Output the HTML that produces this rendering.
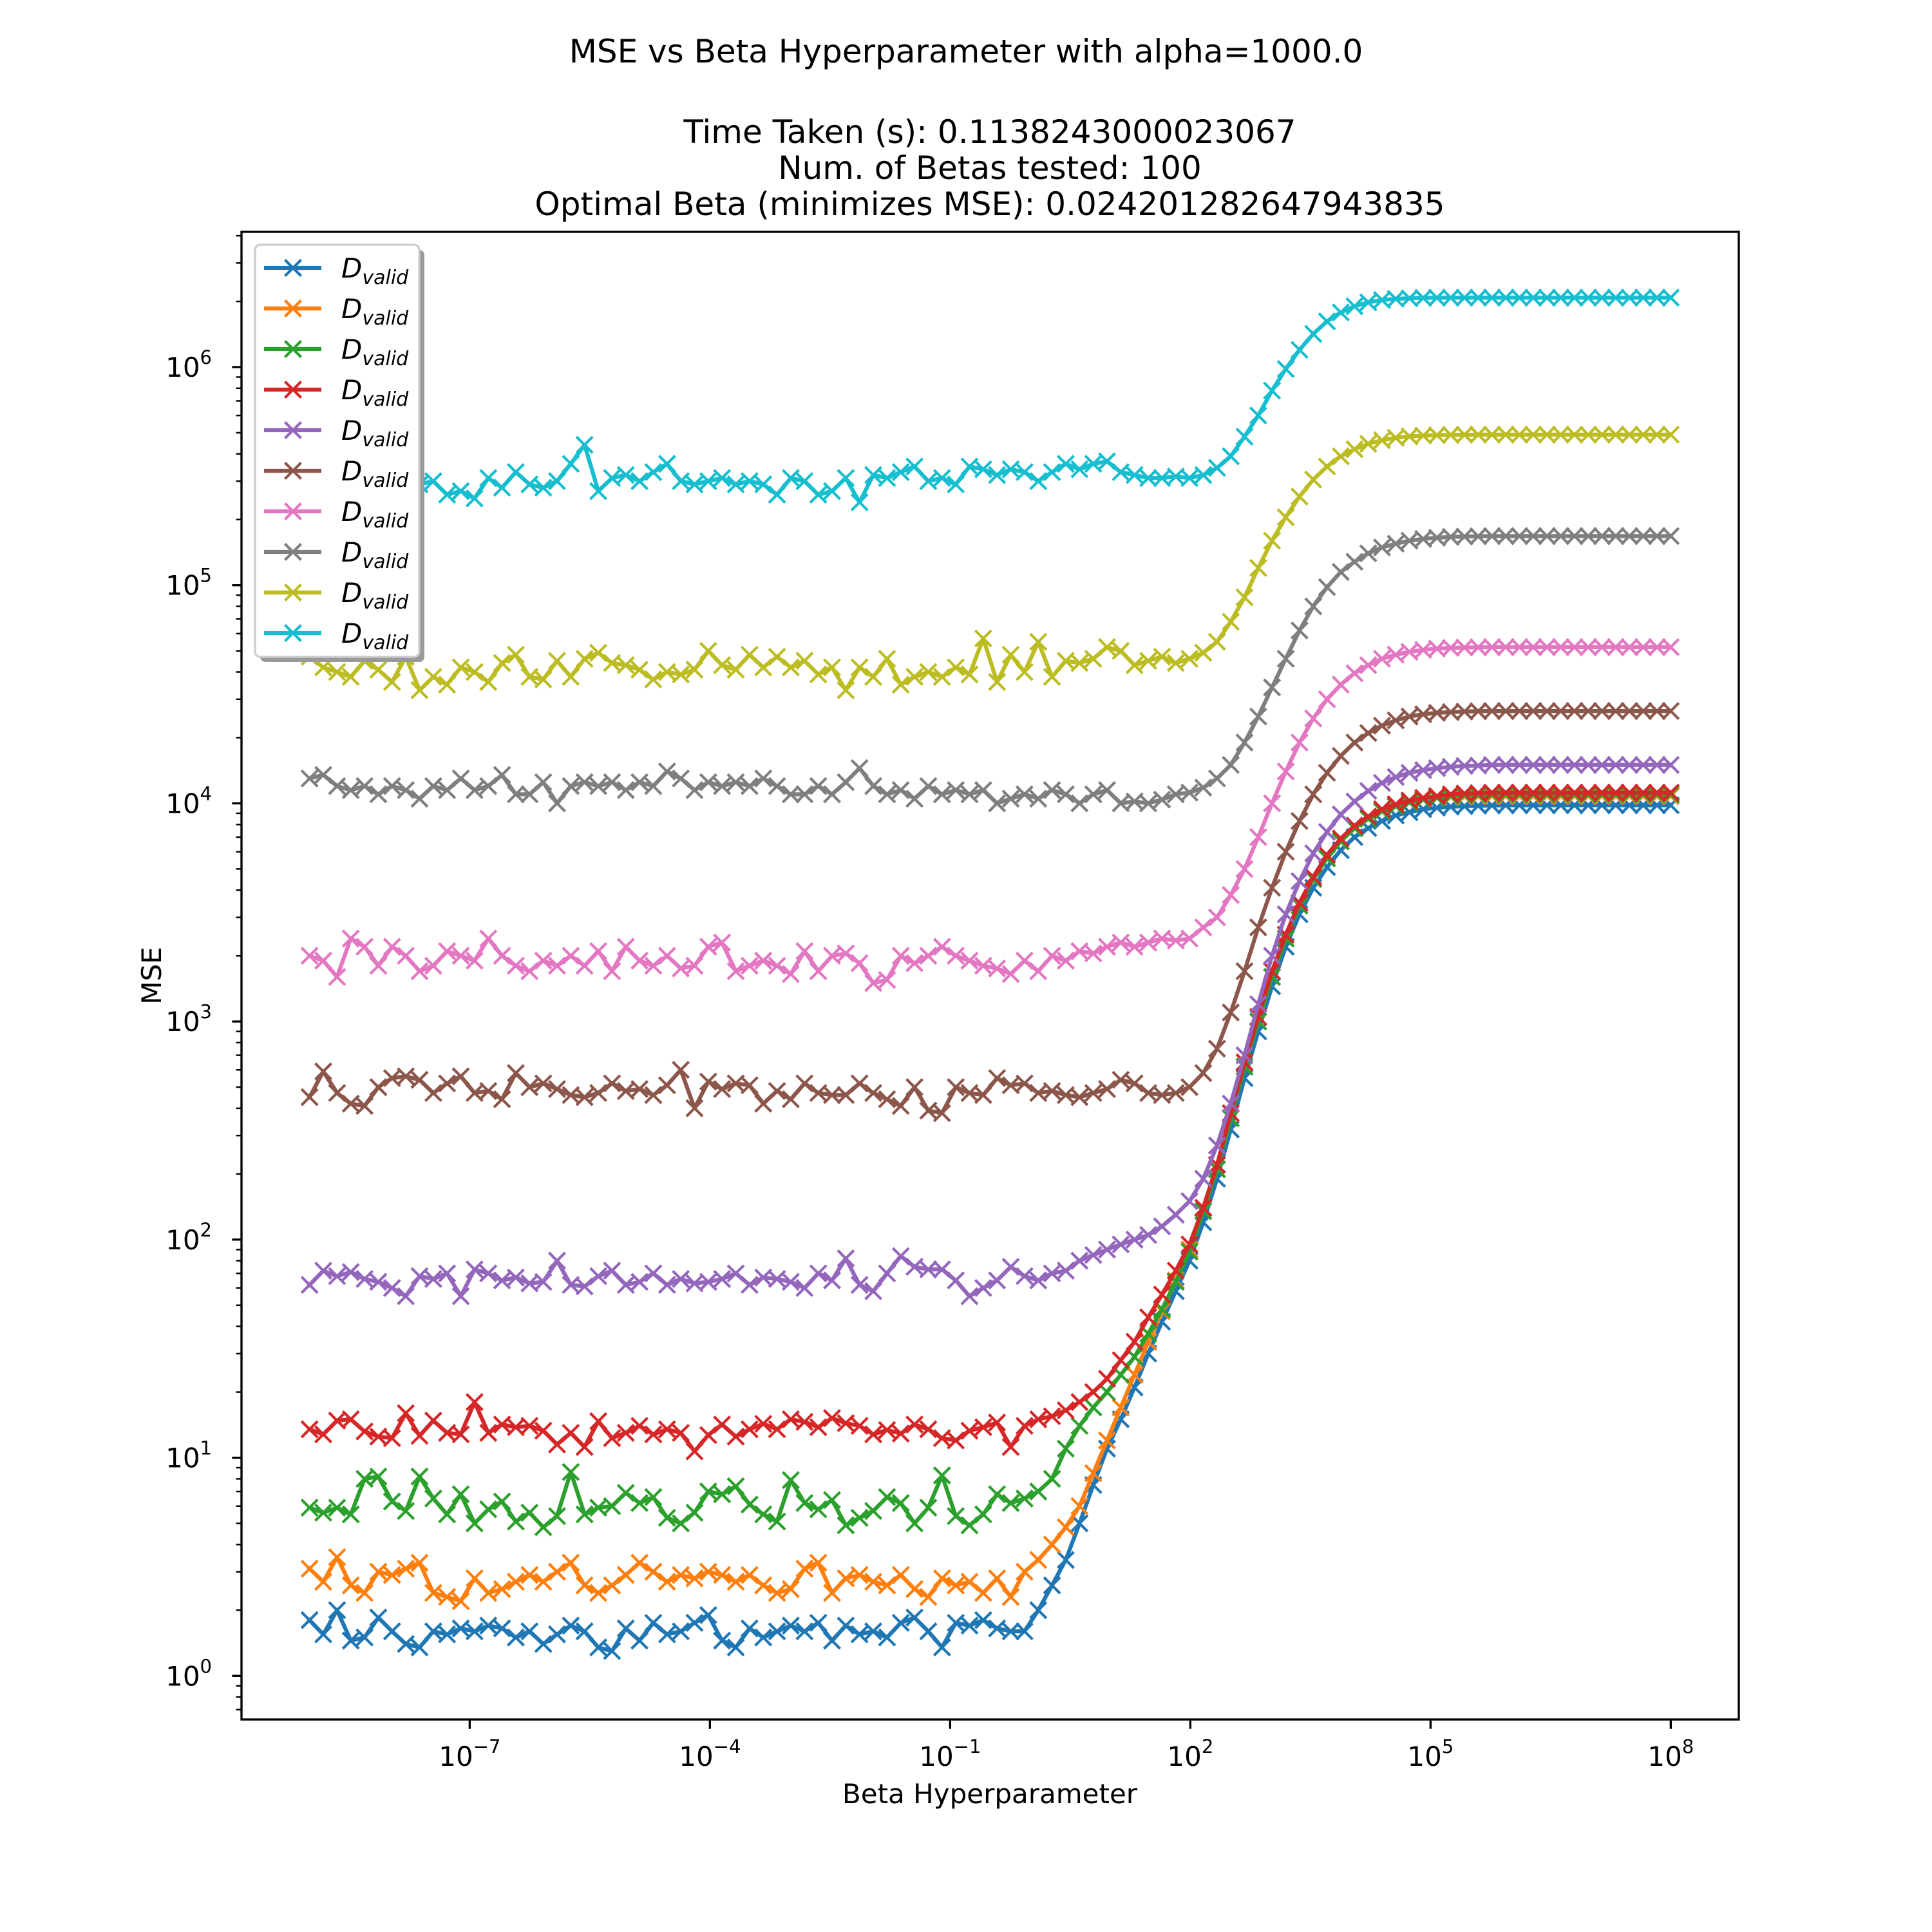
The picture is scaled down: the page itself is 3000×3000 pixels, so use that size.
<!DOCTYPE html>
<html><head><meta charset="utf-8"><style>
html,body{margin:0;padding:0;background:#fff;}
svg{display:block;font-family:"DejaVu Sans","Liberation Sans",sans-serif;}
</style></head><body>
<svg id="fig" width="3000" height="3000" viewBox="0 0 3000 3000" xmlns="http://www.w3.org/2000/svg">
<rect width="3000" height="3000" fill="#fff"/>
<text x="1500" y="97" font-size="50" text-anchor="middle">MSE vs Beta Hyperparameter with alpha=1000.0</text>
<text x="1537" y="222" font-size="50" text-anchor="middle">Time Taken (s): 0.1138243000023067</text>
<text x="1537" y="278" font-size="50" text-anchor="middle">Num. of Betas tested: 100</text>
<text x="1537" y="334" font-size="50" text-anchor="middle">Optimal Beta (minimizes MSE): 0.024201282647943835</text>
<g id="plot"></g>
<g id="axes"></g>
<text x="1537" y="2800" font-size="42" text-anchor="middle">Beta Hyperparameter</text>
<text x="250" y="1515" font-size="42" text-anchor="middle" transform="rotate(-90 250 1515)">MSE</text>
<g id="legend"></g>
</svg>
<script>
const colors=["#1f77b4","#ff7f0e","#2ca02c","#d62728","#9467bd","#8c564b","#e377c2","#7f7f7f","#bcbd22","#17becf"];
const xTickExps=[-7,-4,-1,2,5,8];
const yTickExps=[0,1,2,3,4,5,6];
const seriesBlue=[1.8,1.55,2.0,1.45,1.5,1.85,1.6,1.4,1.35,1.6,1.55,1.65,1.6,
1.7,1.65,1.5,1.6,1.4,1.55,1.7,1.6,1.35,1.3,1.65,1.45,1.75,
1.55,1.6,1.75,1.9,1.45,1.35,1.65,1.5,1.6,1.7,1.6,1.75,1.45,
1.7,1.55,1.6,1.5,1.75,1.85,1.6,1.35,1.75,1.7,1.8,1.65,1.6,
1.6,2.0,2.6,3.4,5,7.5,11,15,21,30,42,58,80,120,190,320,550,900,1450,2200,3100,4100,5100,6100,7000,7700,8300,8800,9100,9400,9550,9650,9700,9750,9780,9790,
9800,9800,9800,9800,9800,9800,9800,9800,9800,9800,9800,9800];
const seriesOrange=[3.1,2.7,3.5,2.6,2.4,3.0,2.9,3.1,3.3,2.4,2.3,2.2,2.8,
2.4,2.5,2.7,2.9,2.7,3.0,3.3,2.6,2.4,2.6,2.9,3.3,3.0,
2.7,2.9,2.8,3.0,2.9,2.7,2.9,2.6,2.4,2.5,3.1,3.3,2.4,
2.8,2.9,2.7,2.6,2.9,2.5,2.3,2.8,2.6,2.7,2.4,2.8,2.3,
3.0,3.4,4.0,4.8,6,8.5,12,17,24,34,47,65,90,135,210,360,620,1000,1600,2400,3400,4500,5600,6700,7700,8500,9200,9700,10100,10400,10600,10700,10750,10780,
10800,10800,10800,10800,10800,10800,10800,10800,10800,10800,10800,10800,10800,10800];
const seriesGreen=[5.9,5.6,5.9,5.5,8.0,8.2,6.3,5.7,8.2,6.5,5.5,6.8,5.0,
5.8,6.3,5.1,5.6,4.8,5.4,8.6,5.5,5.9,6.0,6.9,6.2,6.6,
5.3,5.0,5.6,7.0,6.8,7.4,6.1,5.5,5.1,7.9,6.2,5.8,6.4,
4.9,5.3,5.7,6.6,6.2,5.0,5.9,8.3,5.4,4.9,5.5,6.8,6.2,
6.5,7,8,11,14,17,20,24,29,37,48,64,88,135,210,360,620,1000,1600,2400,3400,4500,5600,6700,7700,8500,9200,9700,10100,10400,10600,10800,10900,10950,
11000,11000,11000,11000,11000,11000,11000,11000,11000,11000,11000,11000,11000,11000];
const seriesRed=[13.5,12.8,14.8,15.0,13.2,12.5,12.3,16.0,12.6,14.8,13.0,12.8,18.0,
13.0,14.2,13.8,14.0,13.3,11.5,13.0,11.2,14.7,12.3,13.0,14.0,12.8,
13.5,13.0,10.7,12.7,14.2,12.5,13.5,14.3,13.5,15.0,14.6,13.8,15.2,
14.4,14.0,12.8,13.4,12.9,14.2,13.5,12.3,12.0,13.3,13.8,14.5,11.2,
14,15,15.5,16.5,18,20,23,28,34,44,56,72,95,140,220,380,650,1050,1700,2500,3500,4600,5800,6900,7900,8700,9400,9900,10300,10600,10800,11000,11100,11150,
11200,11200,11200,11200,11200,11200,11200,11200,11200,11200,11200,11200,11200,11200];
const seriesPurple=[62,72,68,71,66,64,60,55,68,66,70,55,73,
70,65,67,63,64,80,62,61,68,72,62,64,70,
62,66,63,64,66,70,62,67,66,64,60,70,65,
82,62,58,70,84,75,73,73,65,55,60,65,75,
68,65,70,72,80,85,90,95,100,105,115,130,150,190,270,420,700,1200,2000,3100,4400,5900,7400,8900,10200,11400,12400,13200,13800,14200,14500,14700,14850,14900,
15000,15000,15000,15000,15000,15000,15000,15000,15000,15000,15000,15000,15000,15000];
const seriesBrown=[450,590,470,420,410,500,550,560,540,470,520,560,470,
480,440,580,500,520,490,460,450,470,520,480,490,460,
510,600,400,530,490,520,510,420,480,440,520,470,460,
460,520,470,440,410,500,390,380,500,470,460,550,510,
520,470,480,460,450,470,490,540,520,470,460,470,500,580,750,1100,1700,2700,4100,6000,8300,11000,13800,16500,19000,21000,22700,24000,25000,25600,26000,26200,26350,26450,
26500,26500,26500,26500,26500,26500,26500,26500,26500,26500,26500,26500,26500,26500];
const seriesPink=[2000,1900,1600,2400,2200,1800,2200,2000,1700,1800,2100,2000,1900,
2400,2000,1800,1700,1900,1800,2000,1800,2100,1700,2200,1900,1800,
2000,1750,1800,2200,2300,1700,1800,1900,1800,1650,2100,1700,2000,
2050,1850,1500,1550,2000,1850,2000,2200,2000,1900,1800,1750,1650,
1900,1700,2000,1900,2100,2050,2200,2300,2200,2300,2400,2350,2400,2700,3000,3800,5000,7000,10000,14000,19000,24500,30000,35000,39500,43000,46000,48000,49500,50500,51200,51600,51800,51900,
52000,52000,52000,52000,52000,52000,52000,52000,52000,52000,52000,52000,52000,52000];
const seriesGray=[13000,13500,12000,11500,12000,11000,12000,11500,10500,12000,11500,13000,11500,
12000,13500,11000,11000,12500,10000,12000,12500,12000,12500,11500,12500,12000,
14000,13000,11500,12500,12000,12500,12000,13000,12000,11000,11000,12000,11000,
12500,14500,12000,11000,11500,10500,12000,11000,11500,11000,11500,10000,10500,
11000,10500,11500,11000,10000,11000,11500,10000,10200,10000,10400,11000,11200,11800,13000,15000,19000,25000,34000,46000,62000,80000,98000,115000,128000,140000,149000,155000,160000,163000,165000,166500,167200,167600,
168000,168000,168000,168000,168000,168000,168000,168000,168000,168000,168000,168000,168000,168000];
const seriesOlive=[47000,42000,40000,38000,45000,41000,36000,47000,33000,38000,35000,42000,40000,
36000,44000,48000,38000,37000,45000,38000,46000,49000,44000,43000,41000,37000,
40000,39000,41000,50000,43000,41000,48000,42000,47000,42000,45000,39000,42000,
33000,42000,38000,46000,35000,38000,40000,38000,42000,39000,57000,36000,48000,
40000,55000,38000,45000,44000,46000,52000,50000,43000,45000,47000,44000,46000,49000,55000,68000,88000,120000,160000,205000,255000,305000,350000,390000,420000,445000,462000,474000,481000,485000,487500,489000,489500,490000,
490000,490000,490000,490000,490000,490000,490000,490000,490000,490000,490000,490000,490000,490000];
const seriesCyan=[330000,340000,360000,300000,290000,340000,350000,310000,290000,300000,260000,270000,250000,
310000,280000,330000,290000,280000,300000,360000,440000,270000,310000,320000,300000,330000,
360000,300000,290000,300000,310000,290000,300000,290000,260000,310000,300000,260000,270000,
310000,240000,320000,310000,330000,350000,300000,310000,290000,350000,340000,320000,340000,
330000,300000,330000,360000,340000,360000,370000,330000,320000,310000,310000,315000,310000,320000,345000,390000,480000,600000,780000,980000,1200000,1420000,1620000,1780000,1900000,1980000,2030000,2055000,2068000,2075000,2078000,2080000,2080000,2080000,
2080000,2080000,2080000,2080000,2080000,2080000,2080000,2080000,2080000,2080000,2080000,2080000,2080000,2080000];
const allSeries=[seriesBlue,seriesOrange,seriesGreen,seriesRed,seriesPurple,seriesBrown,seriesPink,seriesGray,seriesOlive,seriesCyan];
const seriesNames=["blue","orange","green","red","purple","brown","pink","gray","olive","cyan"];
const betaMinExp=-9, betaMaxExp=8;

const NS="http://www.w3.org/2000/svg";
const L=375,R=2700,T=360,B=2670;
const xMin=-9.85,xMax=8.85,yMin=-0.2,yMax=6.62;
function xs(logv){return L+(logv-xMin)/(xMax-xMin)*(R-L);}
function ys(v){return B-(Math.log10(v)-yMin)/(yMax-yMin)*(B-T);}
function mk(tag,attrs,parent){const e=document.createElementNS(NS,tag);for(const k in attrs)e.setAttribute(k,attrs[k]);parent.appendChild(e);return e;}

const plot=document.getElementById('plot');
const axes=document.getElementById('axes');
const defs=mk('defs',{},document.getElementById('fig'));
const cp=mk('clipPath',{id:'clip'},defs);
mk('rect',{x:L,y:T,width:R-L,height:B-T},cp);
plot.setAttribute('clip-path','url(#clip)');

allSeries.forEach((vals,s)=>{
  const n=vals.length;
  const g=mk('g',{},plot);
  
  
  const pts=vals.map((v,i)=>{const lb=betaMinExp+(betaMaxExp-betaMinExp)*i/(n-1);return [xs(lb),ys(v)];});
  const line=mk('polyline',{points:pts.map(p=>p[0].toFixed(1)+','+p[1].toFixed(1)).join(' '),fill:'none',stroke:colors[s],'stroke-width':6.25,'stroke-linejoin':'round','stroke-linecap':'square'},g);
  
  
  let d='';
  pts.forEach(p=>{const h=12.5;d+=`M${p[0]-h},${p[1]-h}L${p[0]+h},${p[1]+h}M${p[0]-h},${p[1]+h}L${p[0]+h},${p[1]-h}`;});
  const m=mk('path',{d:d,stroke:colors[s],'stroke-width':4.2,fill:'none'},g);
  
  
});

// frame
const fr=mk('rect',{x:L,y:T,width:R-L,height:B-T,fill:'none',stroke:'#000','stroke-width':3.33},axes);


// x ticks
xTickExps.forEach(e=>{
  const x=xs(e);
  const t=mk('line',{x1:x,x2:x,y1:B,y2:B+14.6,stroke:'#000','stroke-width':3.33},axes);
  
  
  const tx=mk('text',{x:x,y:B+72,'font-size':42,'text-anchor':'middle'},axes);
  
  
  tx.textContent='10';
  const sp=mk('tspan',{dy:-20,'font-size':29},tx);
  sp.textContent=e<0?'\u2212'+(-e):String(e);
});
// y ticks
yTickExps.forEach(e=>{
  const y=ys(Math.pow(10,e));
  const t=mk('line',{x1:L-14.6,x2:L,y1:y,y2:y,stroke:'#000','stroke-width':3.33},axes);
  
  
  const tx=mk('text',{x:L-30-16,y:y+15,'font-size':42,'text-anchor':'end'},axes);
  
  
  tx.textContent='10';
  const sp=mk('tspan',{dy:-20,'font-size':29},tx);
  sp.textContent=String(e);
});
for(let e=-1;e<=6;e++){for(let k=2;k<=9;k++){const v=k*Math.pow(10,e);const lv=Math.log10(v);if(lv<yMin||lv>yMax)continue;const y=ys(v);
  const t=mk('line',{x1:L-8.3,x2:L,y1:y,y2:y,stroke:'#000','stroke-width':2.5},axes);
  
  }}

// legend
const lg=document.getElementById('legend');
const sh=mk('rect',{x:404,y:388,width:255,height:640,rx:8,fill:'#999'},lg);


const bx=mk('rect',{x:396,y:380,width:255,height:640,rx:8,fill:'#fff',stroke:'#ccc','stroke-width':3.3},lg);


colors.forEach((c,s)=>{
  const y=416+s*63;
  const g=mk('g',{},lg);
  
  
  mk('line',{x1:410,x2:499,y1:y,y2:y,stroke:c,'stroke-width':6.25},g);
  mk('path',{d:`M${442.5},${y-12.5}L${467.5},${y+12.5}M${442.5},${y+12.5}L${467.5},${y-12.5}`,stroke:c,'stroke-width':4.2},g);
  const t=mk('text',{x:530,y:y+15,'font-size':42,'font-style':'italic'},g);
  t.textContent='D';
  const sp=mk('tspan',{dy:10,'font-size':30},t);
  sp.textContent='valid';
});
</script>
</body></html>
